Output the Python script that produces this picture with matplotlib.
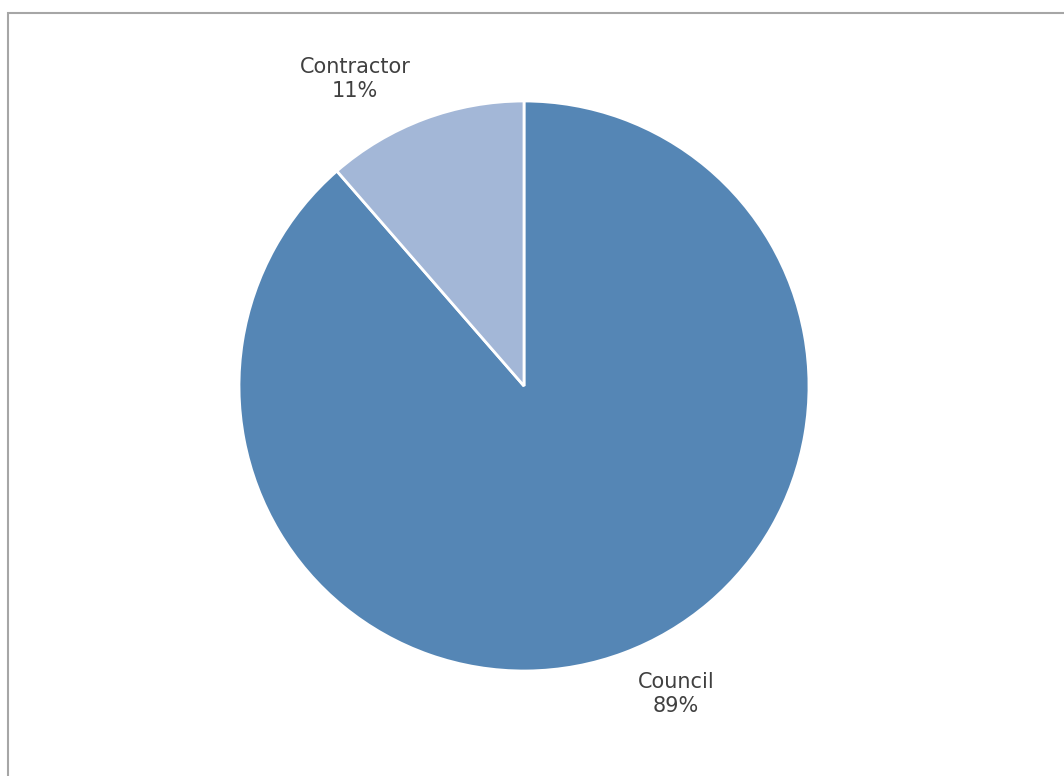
import matplotlib.pyplot as plt
from matplotlib.patches import Rectangle

# data
labels = ['Council', 'Contractor']
values = [88.6, 11.4]
colors = ['#5586B5', '#A3B7D7']
label_pos = [(0.533, -1.081), (-0.593, 1.077)]

fig = plt.figure(figsize=(10.64, 7.76), dpi=100)

# grey frame around chart area (runs off right/bottom edge)
fig.patches.append(Rectangle((8 / 1064, -0.1), 1.2, 1 - 13 / 776 + 0.1,
                             transform=fig.transFigure, fill=False,
                             edgecolor='#A6A6A6', linewidth=1.5))

ax = fig.add_axes([(524 - 285) / 1064, (776 - 386 - 285) / 776, 570 / 1064, 570 / 776])
ax.pie(values, colors=colors, startangle=90, counterclock=False, radius=1,
       wedgeprops=dict(edgecolor='white', linewidth=2))
ax.set_xlim(-1, 1)
ax.set_ylim(-1, 1)
ax.set_aspect('equal')
ax.axis('off')

for lab, v, (x, y) in zip(labels, values, label_pos):
    ax.text(x, y, f'{lab}\n{v:.0f}%', ha='center', va='center', fontsize=15,
            color='#404040', linespacing=1.3, clip_on=False)

fig.savefig('out.png', dpi=100)
